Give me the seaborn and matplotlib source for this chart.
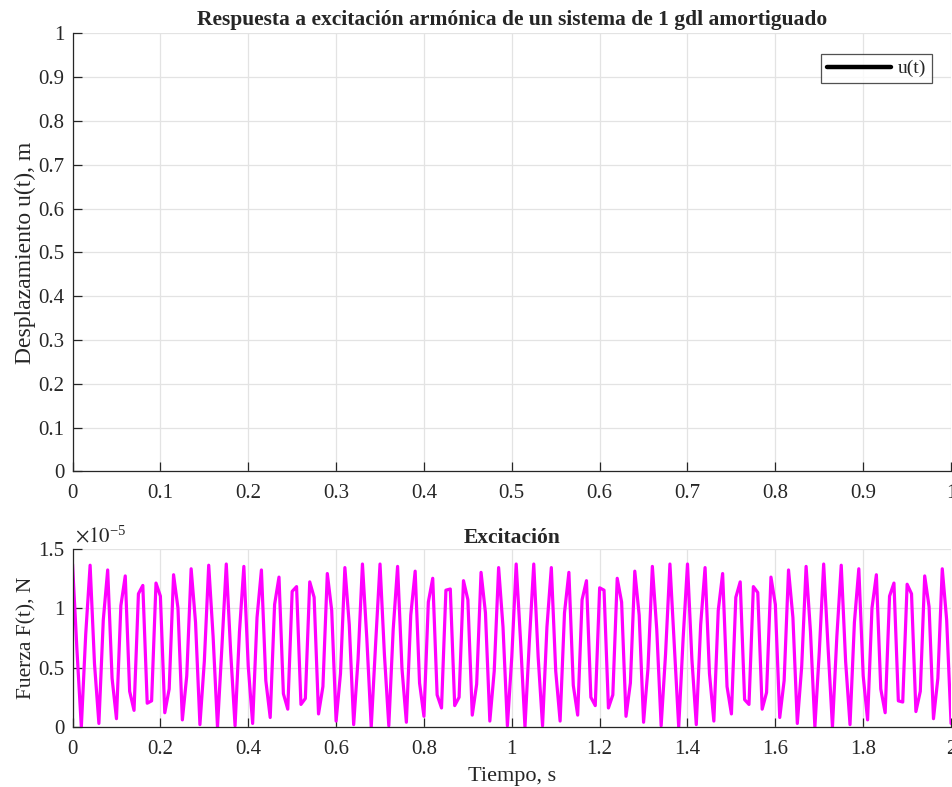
import numpy as np
import pandas as pd
import matplotlib
matplotlib.use("Agg")
import matplotlib.pyplot as plt
from matplotlib.ticker import FuncFormatter
import seaborn as sns

# Sampled excitation force (units of 1e-5 N), one sample every 0.01 s from 0 to 2 s
dt = 0.01
force_e5 = [
    1.37, 0.65, 0.00, 0.78, 1.36, 0.53, 0.03, 0.90, 1.32, 0.41,
    0.07, 1.02, 1.27, 0.30, 0.14, 1.12, 1.19, 0.20, 0.22, 1.21,
    1.10, 0.12, 0.32, 1.28, 1.00, 0.06, 0.43, 1.33, 0.88, 0.02,
    0.55, 1.36, 0.76, 0.00, 0.67, 1.37, 0.63, 0.01, 0.80, 1.35,
    0.51, 0.03, 0.92, 1.32, 0.39, 0.08, 1.03, 1.26, 0.28, 0.15,
    1.14, 1.18, 0.19, 0.24, 1.22, 1.09, 0.11, 0.34, 1.29, 0.98,
    0.05, 0.45, 1.34, 0.86, 0.02, 0.57, 1.37, 0.74, 0.00, 0.70,
    1.37, 0.61, 0.01, 0.82, 1.35, 0.49, 0.04, 0.94, 1.31, 0.37,
    0.09, 1.05, 1.25, 0.27, 0.16, 1.15, 1.16, 0.18, 0.25, 1.23,
    1.07, 0.10, 0.36, 1.30, 0.96, 0.05, 0.47, 1.34, 0.84, 0.01,
    0.59, 1.37, 0.72, 0.00, 0.72, 1.37, 0.59, 0.01, 0.84, 1.34,
    0.47, 0.05, 0.96, 1.30, 0.35, 0.10, 1.07, 1.23, 0.25, 0.18,
    1.17, 1.15, 0.16, 0.27, 1.25, 1.05, 0.09, 0.37, 1.31, 0.94,
    0.04, 0.49, 1.35, 0.82, 0.01, 0.61, 1.37, 0.69, 0.00, 0.74,
    1.37, 0.57, 0.02, 0.86, 1.34, 0.45, 0.05, 0.98, 1.29, 0.34,
    0.11, 1.09, 1.22, 0.23, 0.19, 1.18, 1.13, 0.15, 0.29, 1.26,
    1.03, 0.08, 0.39, 1.32, 0.92, 0.03, 0.51, 1.35, 0.80, 0.00,
    0.63, 1.37, 0.67, 0.00, 0.76, 1.36, 0.55, 0.02, 0.88, 1.33,
    0.43, 0.06, 1.00, 1.28, 0.32, 0.12, 1.10, 1.21, 0.22, 0.21,
    1.20, 1.12, 0.13, 0.30, 1.27, 1.01, 0.07, 0.41, 1.33, 0.90,
    0.03,
]
time_s = [round(i * dt, 2) for i in range(len(force_e5))]
force_scale = 1e-5

x_ticks_top = [0, 0.1, 0.2, 0.3, 0.4, 0.5, 0.6, 0.7, 0.8, 0.9, 1]
y_ticks_top = [0, 0.1, 0.2, 0.3, 0.4, 0.5, 0.6, 0.7, 0.8, 0.9, 1]
x_ticks_bot = [0, 0.2, 0.4, 0.6, 0.8, 1.0, 1.2, 1.4, 1.6, 1.8, 2.0]
y_ticks_bot = [0, 0.5, 1.0, 1.5]

df = pd.DataFrame({"t": time_s, "F": np.array(force_e5) * force_scale})

sns.set_style("ticks")
plt.rcParams["font.family"] = ["Liberation Serif", "DejaVu Serif"]
plt.rcParams["mathtext.fontset"] = "stix"

fig = plt.figure(figsize=(9.52, 7.87), dpi=100)
ax1 = fig.add_axes([0.0762, 0.4009, 0.9228, 0.5568])
ax2 = fig.add_axes([0.0762, 0.0762, 0.9228, 0.2268])

text_col = "#262626"
grid_col = "#e3e3e3"


def style_axes(ax):
    for s in ("top", "right"):
        ax.spines[s].set_visible(False)
    for s in ("left", "bottom"):
        ax.spines[s].set_color(text_col)
        ax.spines[s].set_linewidth(0.9)
    ax.tick_params(direction="in", length=6.5, width=0.9, color=text_col,
                   labelsize=15, labelcolor=text_col)
    ax.tick_params(axis="y", pad=6)
    ax.tick_params(axis="x", pad=9)
    ax.grid(True, color=grid_col, linewidth=0.9)
    ax.set_axisbelow(True)
    ax.xaxis.set_major_formatter(FuncFormatter(lambda v, p: f"{v:g}"))


# Displacement response panel
style_axes(ax1)
ax1.plot([], [], color="black", linewidth=3.2, label="u(t)")
ax1.set_xlim(0, 1)
ax1.set_ylim(0, 1)
ax1.set_xticks(x_ticks_top)
ax1.set_yticks(y_ticks_top)
ax1.yaxis.set_major_formatter(FuncFormatter(lambda v, p: f"{v:g}"))
ax1.set_ylabel("Desplazamiento u(t), m", fontsize=17, color=text_col, labelpad=1.5)
ax1.set_title("Respuesta a excitación armónica de un sistema de 1 gdl amortiguado",
              fontsize=15.5, fontweight="bold", pad=6)
leg = ax1.legend(loc="upper right", fontsize=14, frameon=True, fancybox=False,
                 handlelength=3.3, handletextpad=0.35, borderpad=0.3,
                 borderaxespad=0.0, bbox_to_anchor=(0.978, 0.953))
leg.get_frame().set_edgecolor(text_col)
leg.get_frame().set_linewidth(0.9)

# Excitation panel
style_axes(ax2)
sns.lineplot(data=df, x="t", y="F", ax=ax2, color="#ff00ff", linewidth=2.3,
             estimator=None, sort=False, legend=False)
ax2.set_xlim(0, 2)
ax2.set_ylim(0, 1.5 * force_scale)
ax2.set_xticks(x_ticks_bot)
ax2.set_yticks([v * force_scale for v in y_ticks_bot])
ax2.yaxis.set_major_formatter(FuncFormatter(lambda v, p: f"{v / force_scale:g}"))
ax2.text(0.003, 1.01, r"$\times10^{\mathregular{-5}}$", transform=ax2.transAxes,
         fontsize=15, color=text_col, ha="left", va="bottom")
ax2.set_xlabel("Tiempo, s", fontsize=16, color=text_col, labelpad=6)
ax2.set_ylabel("Fuerza F(t), N", fontsize=15.5, color=text_col, labelpad=1.5)
ax2.set_title("Excitación", fontsize=15.5, fontweight="bold", pad=4)

fig.savefig("out.png", dpi=100)
